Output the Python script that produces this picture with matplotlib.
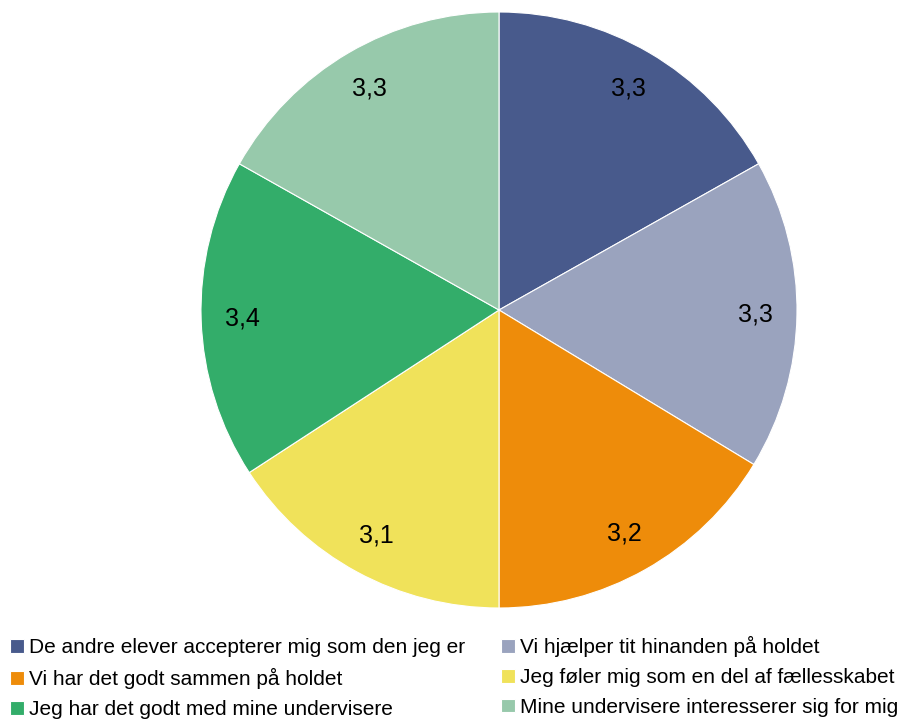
import matplotlib.pyplot as plt

plt.rcParams['font.family'] = ['Liberation Sans', 'DejaVu Sans']

labels = ['De andre elever accepterer mig som den jeg er',
          'Vi hjælper tit hinanden på holdet',
          'Vi har det godt sammen på holdet',
          'Jeg føler mig som en del af fællesskabet',
          'Jeg har det godt med mine undervisere',
          'Mine undervisere interesserer sig for mig']
values = [3.3, 3.3, 3.2, 3.1, 3.4, 3.3]
colors = ['#485A8C', '#9AA3BE', '#EE8C0A', '#F0E25A', '#33AD6A', '#97C9AB']

fig = plt.figure(figsize=(9.06, 7.2), dpi=100)
ax = fig.add_axes([201 / 906, 1 - 608 / 720, 596 / 906, 596 / 720])

wedges, texts, autotexts = ax.pie(
    values, colors=colors, startangle=90, counterclock=False,
    autopct=lambda p: '{:.1f}'.format(p * sum(values) / 100).replace('.', ','),
    pctdistance=0.86, textprops={'fontsize': 18, 'color': 'black'},
    wedgeprops={'edgecolor': 'white', 'linewidth': 0.8})
ax.set_xlim(-1, 1)
ax.set_ylim(-1, 1)
ax.set_aspect('equal')

order = [0, 2, 4, 1, 3, 5]
fig.legend([wedges[i] for i in order], [labels[i] for i in order],
           ncol=2, frameon=False, loc='lower left', bbox_to_anchor=(0.002, -0.010),
           fontsize=15, handlelength=0.65, handleheight=0.65, handletextpad=0.25,
           columnspacing=1.75, labelspacing=0.52, borderaxespad=0)

fig.savefig('out.png', dpi=100)
